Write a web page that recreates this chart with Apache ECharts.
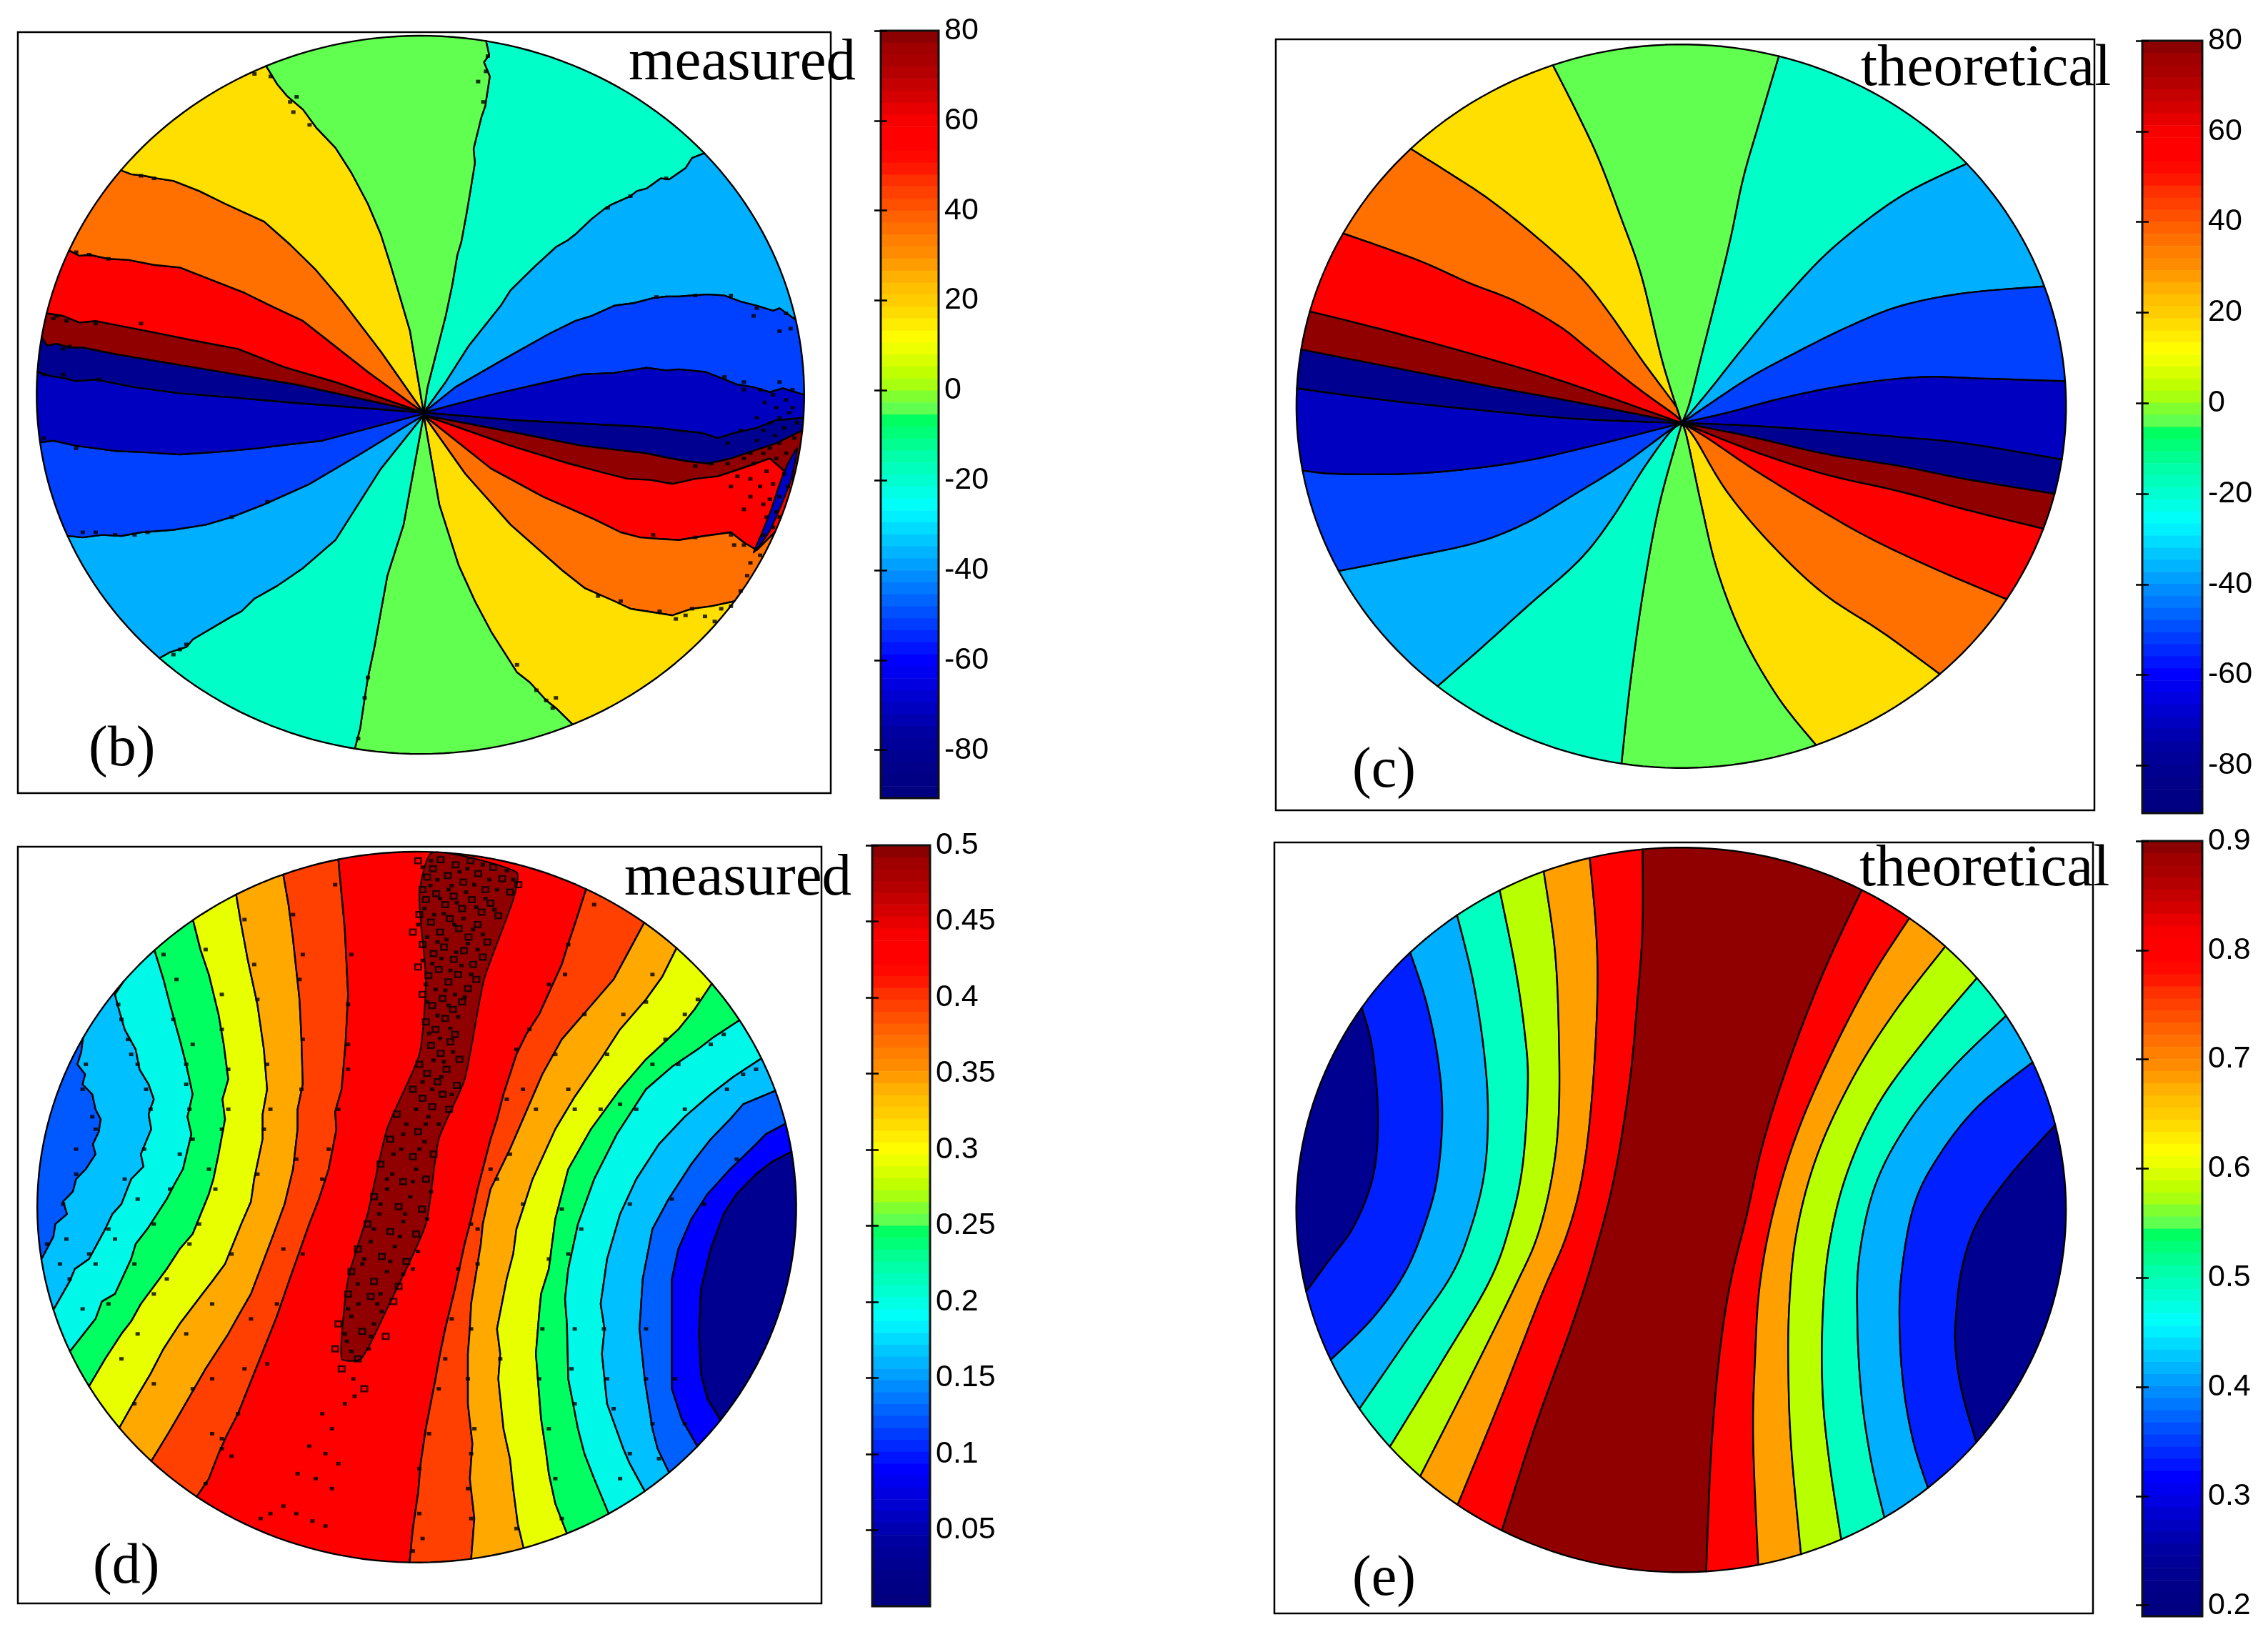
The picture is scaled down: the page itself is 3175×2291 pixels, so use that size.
<!DOCTYPE html>
<html><head><meta charset="utf-8">
<style>html,body{margin:0;padding:0;background:#fff}#c{width:3175px;height:2291px}</style>
<script src="https://cdn.jsdelivr.net/npm/echarts@6/dist/echarts.min.js"></script></head>
<body><div id="c"></div>
<script>
// colour bar levels, top to bottom
const barColors=['#8b0000','#a00000','#a80000','#b40000','#c40000','#d40000','#e80000','#f80000','#ff0000','#ff0000','#ff0800','#ff1800','#ff3000','#ff4000','#ff5000','#ff6000','#ff7000','#ff8000','#ff8c00','#ff9c00','#ffb000','#ffc000','#ffcc00','#ffdc00','#ffec00','#fffc00','#eeff00','#d8ff00','#c0ff00','#a8ff10','#80ff30','#60ff50','#00ff60','#00ff78','#00ff90','#00ffa8','#00ffbc','#00ffd0','#00ffe4','#00fff8','#00f0ff','#00dcff','#00c8ff','#00b4ff','#00a0ff','#008cff','#0078ff','#0064ff','#0050ff','#003cff','#0028ff','#0014ff','#0000ff','#0000f0','#0000e0','#0000d0','#0000c0','#0000b0','#0000a0','#000098','#000090','#000088','#000084','#000080'];
const angleTicks=[-80,-60,-40,-20,0,20,40,60,80];
const dTicks=[0.05,0.1,0.15,0.2,0.25,0.3,0.35,0.4,0.45,0.5];
const eTicks=[0.2,0.3,0.4,0.5,0.6,0.7,0.8,0.9];

// panel (b): contour lines from the centre to the rim, clockwise from the top
const bLines=[
[[656,780],[662,730],[670,690],[680,640],[690,590],[700,530],[708,470],[714,445],[722,390],[728,345],[735,290],[733,262],[745,200],[751,178],[758,120],[749,92],[757,78],[752,52]],
[[656,780],[690,720],[725,650],[775,570],[790,540],[818,505],[830,490],[860,455],[878,442],[890,430],[915,400],[935,380],[945,372],[975,355],[985,345],[1000,340],[1022,320],[1035,322],[1060,300],[1070,280],[1085,275]],
[[656,780],[705,730],[780,675],[850,625],[890,600],[915,590],[950,570],[980,565],[1010,555],[1030,552],[1050,552],[1070,550],[1095,548],[1120,550],[1145,562],[1170,570],[1195,580],[1205,575],[1222,600]],
[[656,780],[760,745],[830,725],[900,705],[950,702],[1000,692],[1030,697],[1050,695],[1090,700],[1115,712],[1140,725],[1165,730],[1190,740],[1210,732],[1242,745]],
[[656,780],[800,795],[950,805],[1000,808],[1030,812],[1050,815],[1085,820],[1110,830],[1135,820],[1170,810],[1200,795],[1240,790]],
[[656,785],[800,820],[900,845],[1000,860],[1030,868],[1060,875],[1095,880],[1130,870],[1165,855],[1200,840],[1238,815]],
[[656,785],[790,845],[880,880],[940,900],[970,910],[1005,912],[1040,920],[1075,910],[1110,905],[1150,888],[1190,870],[1225,910]],
[[656,785],[760,890],[840,945],[920,990],[960,1015],[990,1025],[1020,1028],[1050,1030],[1090,1022],[1130,1015],[1150,1035],[1170,1050],[1190,1010]],
[[656,785],[720,900],[790,1000],[870,1090],[905,1125],[950,1150],[975,1165],[1000,1170],[1040,1178],[1070,1165],[1100,1160],[1135,1150]],
[[656,785],[680,960],[710,1080],[735,1150],[760,1210],[785,1260],[800,1290],[820,1310],[845,1345],[860,1360],[885,1390]],
[[656,785],[625,1000],[600,1100],[590,1170],[580,1240],[570,1300],[565,1340],[558,1400],[550,1438]],
[[656,785],[590,890],[520,1030],[470,1085],[430,1120],[395,1145],[375,1170],[360,1180],[320,1210],[300,1225],[290,1240],[265,1250],[250,1260]],
[[656,785],[560,860],[480,920],[410,960],[360,985],[320,1000],[270,1010],[220,1015],[190,1022],[160,1020],[130,1025],[110,1020]],
[[656,782],[500,835],[450,842],[400,850],[340,857],[280,862],[230,858],[180,855],[150,850],[120,845],[85,835],[65,838]],
[[656,780],[450,760],[360,750],[280,742],[210,730],[150,715],[120,718],[100,712],[80,708],[62,700]],
[[656,780],[460,725],[320,695],[240,678],[180,665],[130,652],[110,652],[90,645],[75,648],[68,632]],
[[656,780],[520,720],[440,690],[370,655],[300,638],[230,620],[190,610],[150,600],[125,603],[100,590],[75,585]],
[[656,780],[570,700],[470,600],[420,570],[380,545],[330,520],[280,495],[240,490],[200,480],[170,478],[140,470],[125,472],[110,462]],
[[656,780],[590,660],[530,560],[490,500],[450,450],[410,405],[350,370],[310,345],[270,325],[245,320],[225,315],[205,312],[190,305]],
[[656,780],[635,620],[605,490],[590,430],[570,370],[545,310],[520,260],[490,220],[470,185],[445,158],[430,135],[415,105]]];
const bColors=['#00ffc8','#00b0ff','#0040ff','#0000c0','#000090','#900000','#ff0000','#ff7000','#ffdf00','#60ff50','#00ffc8','#00b0ff','#0040ff','#0000c0','#000090','#900000','#ff0000','#ff7000','#ffdf00','#60ff50'];
const bSliver=[[1232,850],[1218,880],[1205,920],[1192,970],[1178,1015],[1165,1055],[1190,1012],[1222,915]];
const bSpeck=[[1150,720],[1175,735],[1205,720],[1195,745],[1225,735],[1215,755],[1190,800],[1205,790],[1220,780],[1180,815],[1198,825],[1212,810],[1232,800],[1170,835],[1190,850],[1205,840],[1228,830],[1150,870],[1165,880],[1185,895],[1200,870],[1140,905],[1160,910],[1175,925],[1195,920],[1212,900],[1190,950],[1205,945],[1218,925],[1185,985],[1200,975],[1180,1020],[1195,1005],[1150,1040],[1130,1020],[1175,1060],[1155,1100],[1130,1160],[1070,1165],[1045,1185],[1105,1190],[1205,620],[1222,615],[1215,585],[1165,590],[860,1340],[855,1360],[565,1340],[755,80],[748,170],[450,170],[455,190],[395,115],[150,605],[90,590],[130,1015],[180,1020],[100,655],[70,705],[100,705],[155,715],[70,830],[120,850],[280,1245],[415,955],[1030,320],[975,355],[940,378],[1120,710],[1150,735],[1182,760],[1200,770],[1225,770],[1170,790],[1145,815],[1125,840],[1215,860],[1180,860],[1160,860],[1125,880],[1100,880],[1075,885],[1130,925],[1160,945],[1180,960],[1150,970],[1205,985],[1135,1040],[1160,1075],[1145,1130],[1115,1165],[1090,1180],[1060,1178],[1020,1170],[960,1150],[925,1140],[1010,1020],[1075,1025],[460,160],[480,215],[420,120],[800,1275],[830,1325],[845,1345],[570,1300],[555,1420],[1170,575],[1130,550],[1075,550],[1015,553],[220,315],[240,320],[140,470],[170,478],[120,465],[85,595],[105,600],[220,605],[110,650],[210,1020],[150,1015],[230,1015],[290,1235],[270,1255],[360,985],[740,130],[752,110]];

// panel (c)
const cLines=[
[[660,790],[672,750],[690,660],[712,550],[735,430],[755,310],[780,200],[810,72]],
[[660,790],[700,730],[760,635],[830,530],[900,440],[1000,345],[1100,283]],
[[660,790],[760,705],[840,650],[920,600],[1000,560],[1100,535],[1222,522]],
[[660,790],[730,770],[820,740],[920,715],[1030,700],[1130,703],[1254,708]],
[[660,790],[760,795],[880,805],[1000,818],[1100,830],[1252,862]],
[[660,790],[760,815],[880,850],[1000,875],[1100,900],[1242,930]],
[[660,790],[770,845],[880,890],[1000,925],[1100,960],[1222,998]],
[[660,790],[700,820],[770,880],[860,950],[950,1015],[1050,1075],[1160,1133]],
[[660,790],[680,820],[730,925],[800,1030],[880,1125],[970,1200],[1058,1280]],
[[660,790],[668,820],[690,950],[715,1080],[755,1210],[810,1330],[868,1422]],
[[660,790],[625,950],[600,1120],[580,1300],[566,1460]],
[[660,790],[640,810],[600,880],[550,980],[500,1060],[420,1150],[350,1230],[282,1305]],
[[660,790],[640,805],[570,870],[500,925],[420,985],[340,1025],[230,1055],[128,1080]],
[[660,790],[520,835],[400,868],[260,888],[130,890],[68,884]],
[[660,790],[500,782],[350,765],[200,745],[62,722]],
[[660,790],[500,750],[350,715],[200,678],[66,645]],
[[660,790],[480,710],[350,660],[200,608],[80,570]],
[[660,790],[650,775],[590,720],[520,650],[470,600],[400,550],[330,515],[250,470],[135,418]],
[[660,790],[655,765],[600,670],[545,570],[500,500],[430,420],[360,350],[300,300],[238,250]],
[[660,790],[630,670],[597,500],[565,385],[531,272],[497,180],[460,88]]];

// panel (d): contour lines from top rim to bottom rim, left to right
const dLines=[
[[135,420],[128,445],[122,470],[134,490],[130,510],[145,530],[150,560],[158,580],[155,605],[146,630],[150,650],[135,680],[120,700],[115,725],[100,745],[106,770],[88,790],[85,815],[70,860]],
[[190,300],[180,330],[185,355],[195,400],[212,440],[218,480],[232,510],[240,540],[232,570],[236,600],[220,650],[224,675],[205,700],[190,750],[176,770],[165,800],[140,860],[118,880],[110,905],[90,960]],
[[240,240],[255,300],[265,350],[280,420],[290,470],[300,530],[292,575],[298,610],[285,680],[272,710],[260,740],[230,800],[212,830],[205,860],[180,930],[160,945],[150,980],[120,1040]],
[[300,180],[312,240],[325,290],[340,370],[348,430],[355,500],[346,540],[350,580],[340,650],[332,700],[325,730],[300,810],[280,840],[260,880],[220,950],[205,985],[190,1010],[165,1060],[140,1115]],
[[365,125],[375,190],[385,260],[400,350],[410,440],[415,520],[408,570],[408,620],[395,700],[390,745],[375,790],[350,870],[330,905],[315,930],[280,990],[255,1040],[235,1090],[212,1140],[190,1195]],
[[440,90],[448,150],[455,220],[465,340],[468,420],[470,510],[462,560],[462,600],[455,680],[442,750],[425,810],[390,930],[370,975],[355,1010],[320,1080],[300,1125],[280,1170],[262,1210],[240,1260]],
[[525,60],[530,130],[535,200],[540,330],[536,430],[530,520],[520,565],[522,600],[510,680],[495,740],[480,790],[450,900],[430,975],[410,1040],[370,1170],[352,1215],[340,1250],[325,1300],[310,1330]],
[[905,125],[890,190],[880,228],[870,270],[835,370],[815,410],[800,450],[780,530],[770,580],[760,620],[740,720],[730,780],[720,830],[705,920],[690,1000],[682,1050],[675,1100],[660,1200],[652,1270],[648,1330],[640,1400],[635,1465]],
[[995,190],[975,240],[950,300],[910,360],[870,420],[840,490],[820,550],[790,640],[760,720],[748,790],[745,830],[730,950],[728,1000],[725,1050],[725,1150],[732,1230],[728,1300],[735,1380],[730,1460]],
[[1045,240],[1025,295],[1000,340],[960,400],[930,460],[890,535],[860,600],[825,700],[800,800],[795,850],[785,900],[770,1000],[775,1050],[772,1100],[780,1200],[790,1260],[795,1320],[802,1390],[810,1435]],
[[1100,310],[1075,360],[1050,400],[1000,460],[960,520],[915,600],[880,680],[860,780],[850,880],[838,930],[835,970],[830,1050],[838,1180],[845,1240],[850,1290],[860,1350],[878,1410]],
[[1140,385],[1105,415],[1080,440],[1040,475],[1000,520],[955,610],[920,700],[895,790],[880,880],[875,940],[878,990],[880,1100],[895,1200],[905,1250],[920,1300],[940,1365]],
[[1175,460],[1135,495],[1100,530],[1060,575],[1020,630],[985,700],[960,770],[940,860],[930,950],[936,1000],[932,1050],[940,1150],[965,1240],[975,1270],[995,1320]],
[[1195,525],[1150,550],[1130,580],[1100,620],[1070,670],[1035,740],[1010,800],[995,900],[990,1000],[998,1100],[1010,1200],[1018,1240],[1030,1280]],
[[1212,590],[1185,610],[1170,630],[1130,680],[1095,730],[1070,780],[1050,840],[1040,900],[1040,1010],[1040,1120],[1055,1180],[1070,1225]],
[[1225,645],[1195,665],[1170,690],[1140,730],[1120,770],[1100,840],[1085,920],[1082,1010],[1085,1090],[1095,1140],[1112,1180]]];
const dColors=['#0058ff','#00c0ff','#00f8e8','#00ff60','#e8ff00','#ffa800','#ff4000','#ff0000','#ff4000','#ffa800','#e8ff00','#00ff60','#00f8e8','#00c0ff','#0060ff','#0000ff','#000090'];
const dIsland=[[670,46],[800,85],[795,140],[750,300],[720,500],[680,620],[660,790],[600,960],[560,1060],[530,1060],[540,900],[570,770],[600,600],[650,450],[660,300],[650,130]];
const dLoops=[[648,62],[662,95],[655,120],[671,78],[683,60],[694,92],[706,70],[718,105],[729,62],[741,88],[752,120],[764,75],[778,98],[790,125],[803,110],[660,140],[676,128],[690,150],[703,133],[716,158],[731,140],[746,165],[760,147],[772,172],[650,170],[668,185],[682,205],[697,178],[711,198],[726,215],[740,190],[755,225],[640,205],[655,230],[672,248],[688,235],[703,260],[719,242],[733,270],[748,255],[648,275],[664,292],[680,280],[695,305],[710,290],[725,318],[738,300],[655,330],[670,352],[686,338],[702,360],[716,345],[660,385],[675,400],[690,378],[705,410],[668,432],[683,448],[698,425],[712,460],[650,470],[662,488],[678,505],[692,480],[708,512],[640,520],[655,538],[670,555],[686,530],[696,560],[615,570],[648,605],[605,620],[640,655],[672,650],[590,670],[625,705],[660,700],[580,735],[618,755],[654,760],[570,790],[605,805],[645,810],[555,840],[592,855],[630,865],[545,885],[580,905],[618,915],[540,930],[575,935],[610,945],[525,990],[562,1005],[598,1015],[520,1040],[555,1060],[530,1080],[565,1120]];
const dIslandDots=[[655,75],[668,62],[678,100],[700,112],[712,84],[724,78],[735,110],[748,70],[758,100],[770,120],[785,82],[795,100],[667,112],[682,138],[695,120],[708,146],[722,125],[738,155],[752,138],[766,160],[658,158],[673,170],[688,168],[704,190],[718,178],[733,200],[748,210],[648,190],[662,215],[678,225],[692,220],[707,245],[725,228],[740,240],[655,262],[670,268],[684,258],[698,282],[715,272],[730,290],[660,310],[675,320],[690,322],[705,330],[720,335],[662,345],[678,372],[695,352],[710,375],[665,408],[682,418],[698,398],[672,462],[688,465],[702,445],[655,505],[670,520],[684,495],[700,530],[645,560],[660,590],[680,590],[625,610],[610,650],[650,640],[600,700],[640,705],[590,750],[628,770],[580,800],[620,815],[565,860],[605,865],[640,880],[555,910],[590,930],[625,890],[540,960],[585,950],[535,1010],[575,1015],[545,1045]];
const dSpeck=[[630,590],[664,575],[622,640],[658,625],[608,690],[645,680],[600,720],[636,735],[668,725],[588,770],[625,785],[662,780],[575,825],[612,835],[648,845],[562,870],[600,885],[556,950],[592,965],[545,975],[580,990],[538,1025],[572,1040],[548,1100],[500,1170],[515,1200],[480,1235],[505,1250],[525,1270],[462,1290],[490,1300],[515,1320],[440,1355],[460,1370],[485,1385],[505,1395],[420,1370],[405,1380],[535,1150],[550,1135],[345,1220],[360,1255],[320,1310],[640,1445],[655,1420],[730,1380],[725,1320],[185,350],[200,420],[215,470],[235,560],[225,640],[195,700],[170,800],[140,850],[110,900],[130,520],[150,600],[120,690],[100,750],[270,380],[290,470],[295,560],[300,620],[265,720],[240,790],[210,870],[170,950],[345,400],[355,480],[345,600],[335,720],[310,790],[260,900],[215,1010],[190,1060],[400,340],[415,470],[410,600],[400,690],[360,850],[330,950],[290,1010],[240,1110],[210,1150],[465,300],[470,420],[468,520],[460,660],[440,840],[390,980],[330,1100],[300,1120],[540,350],[540,430],[525,560],[510,640],[470,850],[415,1070],[370,1170],[345,1240],[800,440],[850,310],[880,230],[760,680],[740,800],[700,980],[690,1060],[665,1210],[905,370],[860,450],[830,560],[770,700],[730,1000],[725,1100],[730,1250],[1000,345],[940,450],[890,560],[850,860],[840,1000],[850,1200],[860,1300],[1060,370],[1010,470],[960,550],[880,850],[885,1080],[890,1150],[935,1000],[940,1100],[950,1160],[975,1250],[1010,1190],[1000,1100],[1045,1100],[1060,1190],[1040,740],[1100,430],[1125,520],[1170,480],[190,380],[205,450],[228,520],[120,640],[145,575],[135,470],[105,820],[75,830],[95,870],[150,870],[130,960],[180,820],[215,740],[280,650],[290,510],[300,430],[275,300],[255,250],[345,330],[320,240],[355,560],[325,680],[295,830],[240,930],[420,560],[395,270],[380,180],[455,170],[470,250],[520,110],[545,250],[540,480],[500,700],[430,950],[380,1080],[330,1210],[875,290],[920,150],[820,400],[785,540],[730,790],[710,880],[680,1120],[650,1280],[650,1370],[810,520],[790,650],[740,870],[735,1200],[1010,290],[965,370],[880,520],[810,750],[775,1060],[800,1400],[1080,340],[1030,420],[930,560],[870,760],[835,1100],[870,1380],[1120,410],[1050,470],[985,560],[900,800],[890,1000],[1020,1260],[960,1300],[1150,490],[1060,560],[975,750],[1000,1000],[1140,660],[1090,750]].concat(dIslandDots);

// panel (e)
const eLines=[
[[160,350],[178,430],[187,560],[180,680],[150,780],[110,850],[75,910]],
[[237,243],[262,340],[280,450],[287,560],[280,680],[262,770],[230,870],[180,960],[115,1043]],
[[310,170],[335,300],[352,440],[358,560],[352,680],[330,790],[300,880],[240,990],[158,1140]],
[[378,125],[400,270],[415,400],[420,500],[412,660],[392,780],[360,890],[290,1040],[205,1215]],
[[445,85],[462,240],[468,400],[468,560],[458,680],[435,800],[400,900],[330,1080],[253,1272]],
[[516,57],[526,200],[528,330],[520,520],[505,680],[480,800],[440,920],[375,1130],[310,1330]],
[[598,37],[598,200],[590,340],[578,500],[555,680],[525,830],[490,970],[430,1180],[380,1378]],
[[938,122],[880,280],[825,460],[785,620],[760,760],[735,890],[718,1030],[705,1220],[697,1460]],
[[1010,180],[950,300],[885,460],[835,610],[800,760],[780,900],[773,1040],[770,1200],[778,1447]],
[[1068,232],[990,360],[925,490],[870,640],[838,790],[826,940],[825,1090],[830,1230],[845,1428]],
[[1116,295],[1040,410],[965,540],[915,680],[888,820],[878,960],[878,1110],[888,1240],[907,1397]],
[[1160,370],[1080,470],[1010,580],[960,700],[935,840],[932,970],[938,1110],[953,1240],[972,1350]],
[[1202,460],[1120,545],[1060,640],[1020,740],[1000,880],[998,1000],[1005,1110],[1020,1210],[1040,1293]],
[[1240,582],[1170,680],[1120,770],[1095,860],[1085,960],[1085,1030],[1095,1110],[1114,1203]]];
const eColors=['#000090','#0020ff','#00b0ff','#00ffc0','#b8ff00','#ffa000','#ff0000','#900000','#ff0000','#ffa000','#b8ff00','#00ffc0','#00b0ff','#0020ff','#000090'];

const panels=[
 {frame:[25,45,1138,1065],view:[30,1284,33,1527],disc:[651,745,592,705],lines:bLines,colors:bColors,wedge:true,smooth:false,speck:bSpeck,island:bSliver,islandColor:'#0000c0',
  bar:[1233,43,81,1074],range:[-90.7,80],ticks:angleTicks,tag:'(b)',tagPos:[124,1010],name:'measured',namePos:[880,48]},
 {frame:[1786,55,1146,1079],view:[30,1300,37,1550],disc:[659,757,597,710],lines:cLines,colors:bColors,wedge:true,smooth:true,
  bar:[2999,57,84,1081],range:[-90.5,80],ticks:angleTicks,tag:'(c)',tagPos:[1893,1040],name:'theoretical',namePos:[2605,56]},
 {frame:[25,1185,1125,1059],view:[30,1271,34,1550],disc:[646,756,586,712],lines:dLines,colors:dColors,smooth:false,speck:dSpeck,loops:dLoops,island:dIsland,islandColor:'#900000',
  bar:[1221,1183,81,1065],range:[0,0.5],ticks:dTicks,tag:'(d)',tagPos:[130,2154],name:'measured',namePos:[874,1189]},
 {frame:[1784,1179,1146,1079],view:[26,1298,27,1542],disc:[658,749,598,712],lines:eLines,colors:eColors,smooth:true,
  bar:[2999,1177,84,1085],range:[0.19,0.9],ticks:eTicks,tag:'(e)',tagPos:[1893,2171],name:'theoretical',namePos:[2603,1176]}];

// curve through the read points of a contour line (drawing only)
function curve(l){
  const o=[];
  for(let i=0;i<l.length-1;i++){
    const a=l[Math.max(i-1,0)],b=l[i],c=l[i+1],d=l[Math.min(i+2,l.length-1)];
    for(let k=0;k<10;k++){const t=k/10,t2=t*t,t3=t2*t;
      o.push([0,1].map(j=>0.5*(2*b[j]+(c[j]-a[j])*t+(2*a[j]-5*b[j]+4*c[j]-d[j])*t2+(3*b[j]-a[j]-3*c[j]+d[j])*t3)));}
  }
  o.push(l[l.length-1]);return o;
}
function polyFor(p,i){
  const [cx,cy,rx,ry]=p.disc;
  const ang=q=>Math.atan2((q[1]-cy)/ry,(q[0]-cx)/rx);
  const onRim=q=>Math.hypot((q[0]-cx)/rx,(q[1]-cy)/ry)>0.85;
  const snap=l0=>{const l=l0.slice();[0,l.length-1].forEach(k=>{if(onRim(l[k])){const a=ang(l[k]);l[k]=[cx+rx*Math.cos(a),cy+ry*Math.sin(a)];}});return p.smooth?curve(l):l;};
  const arc=(u,v)=>{
    if(!onRim(u)||!onRim(v))return [];
    let a=ang(u),b=ang(v),d=b-a;
    while(d>Math.PI)d-=2*Math.PI;while(d<-Math.PI)d+=2*Math.PI;
    const n=Math.max(2,Math.ceil(Math.abs(d)/0.03)),o=[];
    for(let k=1;k<n;k++){const t=a+d*k/n;o.push([cx+rx*Math.cos(t),cy+ry*Math.sin(t)]);}
    return o;};
  const L=p.lines,n=L.length;
  let A,B;
  if(p.wedge){A=snap(L[i]);B=snap(L[(i+1)%n]);
    return A.concat(arc(A[A.length-1],B[B.length-1]),B.slice().reverse());}
  if(i===0){A=snap(L[0]);return A.concat(arc(A[A.length-1],A[0]));}
  if(i===n){A=snap(L[n-1]);return A.concat(arc(A[A.length-1],A[0]));}
  A=snap(L[i-1]);B=snap(L[i]);
  return A.concat(arc(A[A.length-1],B[B.length-1]),B.slice().reverse(),arc(B[0],A[0]));
}
const grid=[],xAxis=[],yAxis=[],series=[],title=[];
panels.forEach(p=>{
  const gi=grid.length;
  grid.push({left:p.frame[0],top:p.frame[1],width:p.frame[2],height:p.frame[3],show:true,backgroundColor:'#fff',borderColor:'#000',borderWidth:2.5});
  xAxis.push({gridIndex:gi,type:'value',min:p.view[0],max:p.view[1],show:false});
  const yi=yAxis.length;
  yAxis.push({gridIndex:gi,type:'value',min:p.view[2],max:p.view[3],inverse:true,show:false});
  series.push({type:'custom',coordinateSystem:'cartesian2d',xAxisIndex:gi,yAxisIndex:yi,silent:true,clip:false,z:2,
    data:p.colors.map((c,i)=>[p.disc[0],p.disc[1],i]),encode:{x:0,y:1},
    renderItem:(params,api)=>{
      const i=api.value(2);
      const pts=polyFor(p,i).map(q=>api.coord(q));
      return {type:'polygon',shape:{points:pts},style:{fill:p.colors[i],stroke:'#000',lineWidth:2.4,lineJoin:'round'}};
    }});
  if(p.island){
    series.push({type:'custom',coordinateSystem:'cartesian2d',xAxisIndex:gi,yAxisIndex:yi,silent:true,z:3,
      data:[[p.disc[0],p.disc[1]]],encode:{x:0,y:1},
      renderItem:(params,api)=>({type:'polygon',shape:{points:p.island.map(q=>api.coord(q)),smooth:0.2},style:{fill:p.islandColor,stroke:'#000',lineWidth:2}})});
  }
  if(p.loops){
    series.push({type:'scatter',xAxisIndex:gi,yAxisIndex:yi,silent:true,z:4,data:p.loops,symbol:'path://M0 0H10V10H0Z M2.4 2.4V7.6H7.6V2.4Z',symbolSize:[11,10],itemStyle:{color:'#000'}});
  }
  if(p.speck){
    series.push({type:'scatter',xAxisIndex:gi,yAxisIndex:yi,silent:true,z:4,data:p.speck,symbol:'rect',symbolSize:[6,5],itemStyle:{color:'#000'}});
  }
  const bi=grid.length;
  grid.push({left:p.bar[0],top:p.bar[1],width:p.bar[2],height:p.bar[3],show:false});
  xAxis.push({gridIndex:bi,type:'value',min:0,max:1,show:false});
  const lab=yAxis.length;
  const [mn,mx]=p.range;
  yAxis.push({gridIndex:bi,type:'value',min:mn,max:mx,position:'right',axisLine:{show:false},splitLine:{show:false},z:6,
    axisTick:{show:true,inside:true,length:9,customValues:p.ticks,lineStyle:{color:'#000',width:2.5}},
    axisLabel:{show:true,customValues:p.ticks,margin:8,color:'#000',fontFamily:'Liberation Sans',fontSize:43,showMinLabel:true,showMaxLabel:true,hideOverlap:false}});
  yAxis.push({gridIndex:bi,type:'value',min:mn,max:mx,position:'left',axisLine:{show:false},splitLine:{show:false},z:6,
    axisTick:{show:true,inside:true,length:9,customValues:p.ticks,lineStyle:{color:'#000',width:2.5}},axisLabel:{show:false}});
  const N=barColors.length;
  series.push({type:'custom',coordinateSystem:'cartesian2d',xAxisIndex:bi,yAxisIndex:lab,silent:true,z:1,
    data:barColors.map((c,i)=>[0.5,mx-(mx-mn)*(i+0.5)/N,i]),encode:{x:0,y:1},
    renderItem:(params,api)=>{
      const i=api.value(2);
      const t=api.coord([0,mx-(mx-mn)*i/N]),b=api.coord([1,mx-(mx-mn)*(i+1)/N]);
      return {type:'rect',shape:{x:t[0],y:t[1],width:b[0]-t[0],height:b[1]-t[1]+0.6},style:{fill:barColors[i]}};
    }});
  series.push({type:'custom',coordinateSystem:'cartesian2d',xAxisIndex:bi,yAxisIndex:lab,silent:true,z:5,
    data:[[0.5,(mn+mx)/2]],encode:{x:0,y:1},
    renderItem:(params,api)=>{
      const t=api.coord([0,mx]),b=api.coord([1,mn]);
      return {type:'rect',shape:{x:t[0],y:t[1],width:b[0]-t[0],height:b[1]-t[1]},style:{fill:'none',stroke:'#111',lineWidth:3}};
    }});
  title.push({text:p.name,left:p.namePos[0],top:p.namePos[1],textStyle:{fontFamily:'Liberation Serif',fontWeight:'normal',fontSize:83,color:'#000'},padding:0});
  title.push({text:p.tag,left:p.tagPos[0],top:p.tagPos[1],textStyle:{fontFamily:'Liberation Serif',fontWeight:'normal',fontSize:80,color:'#000'},padding:0});
});
const chart=echarts.init(document.getElementById('c'),null,{renderer:'canvas',width:3175,height:2291});
chart.setOption({animation:false,backgroundColor:'#fff',title,grid,xAxis,yAxis,series});
</script></body></html>
